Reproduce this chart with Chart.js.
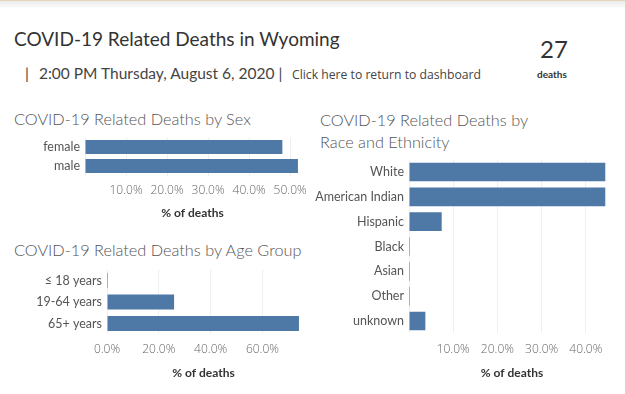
<!DOCTYPE html>
<html>
<head>
<meta charset="utf-8">
<script src="https://cdn.jsdelivr.net/npm/chart.js@4.4.1/dist/chart.umd.min.js"></script>
<style>
  html, body { margin: 0; padding: 0; background: #fff; }
  body { width: 625px; height: 394px; position: relative; overflow: hidden; font-family: Lato, sans-serif; }
  .topband { position: absolute; left: 0; top: 0; width: 625px; height: 8px;
    border-top: 1px solid #e6d6b8; background: linear-gradient(#ececec, #fcfcfc); box-sizing: border-box; }
  .txt { position: absolute; white-space: nowrap; line-height: 1; }
  .main { left: 14px; top: 28.5px; font-size: 19px; color: #333; }
  .sub { left: 25px; top: 66px; font-size: 15.5px; color: #444; }
  .link { left: 292px; top: 69px; font-size: 12.2px; color: #444; font-family: "Open Sans", sans-serif; }
  .big { left: 540px; top: 37px; font-size: 24px; color: #333; }
  .unit { left: 537px; top: 69px; font-size: 10px; color: #333; font-weight: 700; }
  .ctitle { font-size: 16.3px; color: #555; font-weight: 300; }
  .box { position: absolute; }
</style>
</head>
<body>
<div class="topband"></div>
<div class="txt main">COVID-19 Related Deaths in Wyoming</div>
<div class="txt sub">|</div>
<div class="txt sub" style="left:39px;">2:00 PM Thursday, August 6, 2020 |</div>
<div class="txt link">Click here to return to dashboard</div>
<div class="txt big">27</div>
<div class="txt unit">deaths</div>

<div class="txt ctitle" style="left:14px; top:111px;">COVID-19 Related Deaths by Sex</div>
<div class="txt ctitle" style="left:14px; top:242px;">COVID-19 Related Deaths by Age Group</div>
<div class="txt ctitle" style="left:320px; top:112px;">COVID-19 Related Deaths by</div>
<div class="txt ctitle" style="left:320px; top:134px;">Race and Ethnicity</div>

<div class="box" style="left:0; top:130px; width:310px; height:92px;"><canvas id="sexChart"></canvas></div>
<div class="box" style="left:0; top:262px; width:310px; height:120px;"><canvas id="ageChart"></canvas></div>
<div class="box" style="left:310px; top:152px; width:315px; height:230px;"><canvas id="raceChart"></canvas></div>

<script>
// % of deaths
const sexLabels = ['female', 'male'];
const sexValues = [48.1, 51.9];

const ageLabels = ['\u2264 18 years', '19-64 years', '65+ years'];
const ageValues = [0, 25.9, 74.1];

const raceLabels = ['White', 'American Indian', 'Hispanic', 'Black', 'Asian', 'Other', 'unknown'];
const raceValues = [44.4, 44.4, 7.4, 0, 0, 0, 3.7];

const BAR = '#4e79a7';

function makeChart(id, labels, values, opts) {
    return new Chart(document.getElementById(id), {
        type: 'bar',
        data: {
            labels: labels,
            datasets: [{
                data: values,
                backgroundColor: BAR,
                borderWidth: 0,
                minBarLength: 1,
                barPercentage: opts.barPct,
                categoryPercentage: 1
            }]
        },
        options: {
            indexAxis: 'y',
            responsive: true,
            maintainAspectRatio: false,
            animation: false,
            layout: { padding: { top: opts.padTop, right: 10, bottom: 0, left: 0 } },
            plugins: { legend: { display: false }, tooltip: { enabled: false } },
            scales: {
                x: {
                    min: 0,
                    max: opts.max,
                    afterFit: (s) => { s.height = opts.xHeight; s.paddingLeft = 0; s.paddingRight = 0; },
                    grid: { color: '#efefef', drawTicks: false, tickLength: 0 },
                    border: { display: false },
                    ticks: {
                        stepSize: opts.step,
                        includeBounds: false,
                        maxRotation: 0,
                        padding: opts.tickPad,
                        color: '#666',
                        font: { family: '"Open Sans", sans-serif', size: 12, weight: 300 },
                        callback: (v) => (v === 0 && !opts.showZero) ? '' : v.toFixed(1) + '%'
                    },
                    title: {
                        display: true,
                        text: '% of deaths',
                        color: '#333',
                        font: { family: 'Lato, sans-serif', size: 12, weight: 700 },
                        padding: { top: 0, bottom: 2 }
                    }
                },
                y: {
                    afterFit: (s) => { s.width = opts.yWidth; s.paddingTop = 0; s.paddingBottom = 0; },
                    grid: { display: false, drawTicks: false, tickLength: 0 },
                    border: { display: false },
                    ticks: {
                        autoSkip: false,
                        padding: 5,
                        color: '#555',
                        font: { family: 'Lato, sans-serif', size: 12.5 }
                    }
                }
            }
        }
    });
}

makeChart('sexChart', sexLabels, sexValues,
    { barPct: 0.74, padTop: 7.5, max: 52.4, step: 10, xHeight: 46.5, tickPad: 8, yWidth: 85, showZero: false });
makeChart('ageChart', ageLabels, ageValues,
    { barPct: 0.7, padTop: 7.75, max: 74.5, step: 20, xHeight: 47.75, tickPad: 8, yWidth: 107, showZero: true });
makeChart('raceChart', raceLabels, raceValues,
    { barPct: 0.75, padTop: 7.6, max: 46.6, step: 10, xHeight: 48.6, tickPad: 9, yWidth: 99, showZero: false });
</script>
</body>
</html>
